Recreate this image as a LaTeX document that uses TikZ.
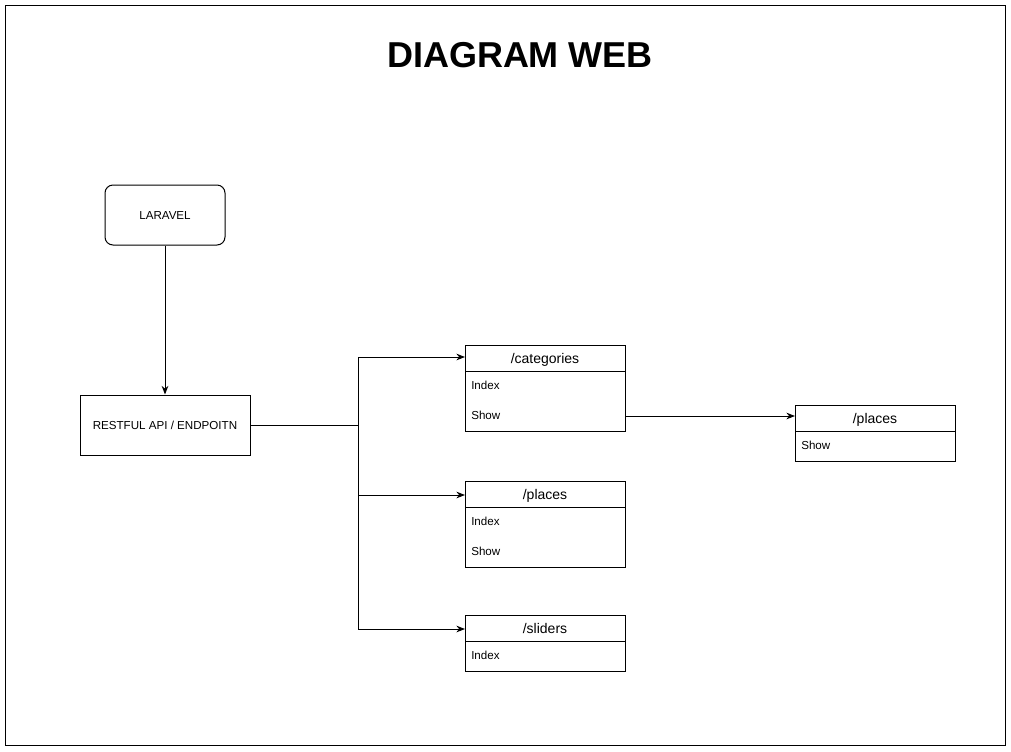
\documentclass[tikz,border=0pt]{standalone}
\usepackage{fontspec}
\setmainfont{Liberation Sans}
\usepackage{tikz}
\usetikzlibrary{positioning, arrows.meta}
\definecolor{lineColor}{RGB}{0, 0, 0}
\definecolor{boxFill}{RGB}{255, 255, 255}
\tikzset{
    app_box/.style={
        draw=lineColor,
        fill=boxFill,
        rounded corners=6pt,
        line width=0.75pt,
        minimum width=90pt,
        minimum height=45pt,
        text height=6.8pt,
        text depth=0pt,
        font=\fontsize{8.7pt}{10pt}\selectfont
    },
    api_box/.style={
        draw=lineColor,
        fill=boxFill,
        line width=0.75pt,
        minimum width=127.5pt,
        minimum height=45pt,
        text height=6.8pt,
        text depth=0pt,
        font=\fontsize{8.7pt}{10pt}\selectfont
    },
    route_head/.style={
        draw=lineColor,
        fill=boxFill,
        line width=0.75pt,
        inner sep=0pt,
        outer sep=0pt,
        minimum width=120pt,
        minimum height=19.5pt,
        text height=8.5pt,
        text depth=0pt,
        font=\fontsize{10.5pt}{12pt}\selectfont
    },
    route_body/.style={
        draw=lineColor,
        fill=boxFill,
        line width=0.75pt,
        inner sep=0pt,
        outer sep=0pt,
        minimum width=120pt,
        minimum height=#1
    },
    route_item/.style={
        anchor=west,
        inner sep=0pt,
        font=\fontsize{8.7pt}{10pt}\selectfont
    },
    web_edge/.style={
        -{Stealth[length=6.5pt,width=5pt]},
        line width=0.75pt,
        draw=lineColor
    },
    web_line/.style={
        line width=0.75pt,
        draw=lineColor
    }
}
\begin{document}
\begin{tikzpicture}[x=0.75pt, y=-0.75pt, node distance=0pt]
    \useasboundingbox (0,0) rectangle (1011,751);
    \draw[web_line] (5,5) rectangle (1005,745);

    \node[font=\fontsize{27pt}{32pt}\selectfont\bfseries] (title) at (520,55) {DIAGRAM WEB};

    \node[app_box] (laravel) at (165,215) {LARAVEL};
    \node[api_box] (api) at (165,425) {RESTFUL API / ENDPOITN};

    % route boxes
    \node[route_head] (cat_head) at (545,358) {/categories};
    \node[route_body=45pt, below=of cat_head] (cat_body) {};
    \node[route_item] (cat_index) at (471,385.5) {Index};
    \node[route_item] (cat_show) at (471,415.5) {Show};

    \node[route_head] (pl_head) at (545,494) {/places};
    \node[route_body=45pt, below=of pl_head] (pl_body) {};
    \node[route_item] (pl_index) at (471,521.5) {Index};
    \node[route_item] (pl_show) at (471,551.5) {Show};

    \node[route_head] (sl_head) at (545,628) {/sliders};
    \node[route_body=22.5pt, below=of sl_head] (sl_body) {};
    \node[route_item] (sl_index) at (471,655.5) {Index};

    \node[route_head] (det_head) at (875,418) {/places};
    \node[route_body=22.5pt, below=of det_head] (det_body) {};
    \node[route_item] (det_show) at (801,445.5) {Show};

    \coordinate (trunk) at (358,425);

    \draw[web_edge] (laravel) -- (api);
    \draw[web_line] (api.east) -- (trunk);
    \draw[web_edge] (trunk) |- ([yshift=0.75pt]cat_head.west);
    \draw[web_edge] (trunk) |- ([yshift=-0.75pt]pl_head.west);
    \draw[web_edge] (trunk) |- ([yshift=-0.75pt]sl_head.west);
    \draw[web_edge] ([yshift=-11.25pt]cat_body.east) -- ([yshift=-11.25pt]cat_body.east -| det_head.west);
\end{tikzpicture}
\end{document}
